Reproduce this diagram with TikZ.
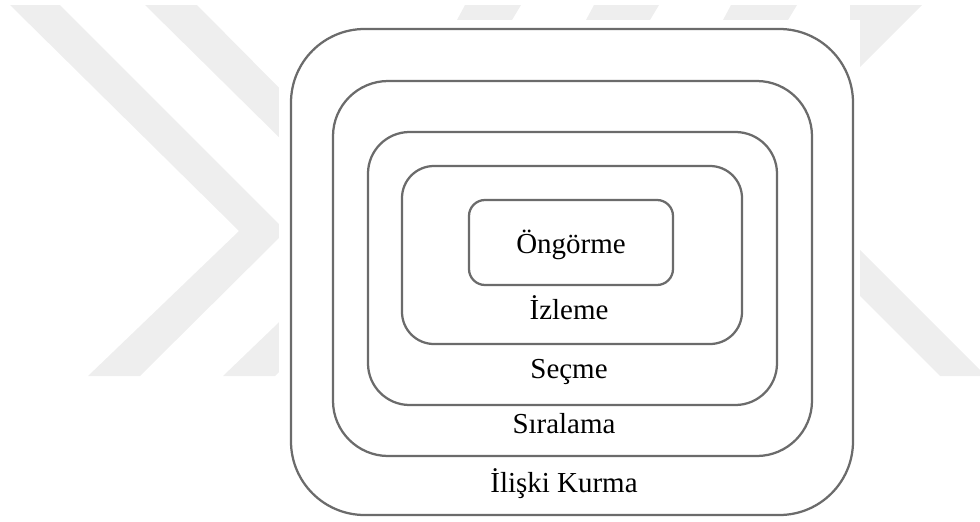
\documentclass[tikz,border=0pt]{standalone}
\usepackage{fontspec}
\setmainfont{Liberation Serif}
\usepackage{tikz}
\definecolor{wmgrey}{HTML}{EEEEEE}
\definecolor{boxgrey}{HTML}{6B6B6B}

\tikzset{
  layer/.style={boxgrey,line width=0.8pt},
  lbl/.style={font=\fontsize{10.3}{12}\selectfont,anchor=base,inner sep=0pt}
}

\begin{document}
\begin{tikzpicture}[x=0.0125cm,y=-0.0125cm]
\useasboundingbox (0,0) rectangle (980,522);
\fill[wmgrey] (10,5) -- (60,5) -- (286,231) -- (140,376) -- (88,376) -- (239,231) -- cycle;
\fill[wmgrey] (145,5) -- (197,5) -- (421,231) -- (275,376) -- (223,376) -- (374,231) -- cycle;
\fill[wmgrey] (457,20) -- (512,20) -- (521,5) -- (465,5) -- cycle;
\fill[wmgrey] (586,20) -- (650,20) -- (659,5) -- (594,5) -- cycle;
\fill[wmgrey] (723,20) -- (788,20) -- (797,5) -- (731,5) -- cycle;
\fill[wmgrey] (850,5) -- (922,5) -- (850,77) -- cycle;
\fill[wmgrey] (840,230) -- (980,370) -- (980,376) -- (940,376) -- (840,276) -- cycle;
\fill[white] (279,20) rectangle (860,522);
\draw[layer,rounded corners=0.92cm] (291,29) rectangle (853,515);
\draw[layer,rounded corners=0.69cm] (333,81) rectangle (812,456);
\draw[layer,rounded corners=0.52cm] (368,132) rectangle (777,405);
\draw[layer,rounded corners=0.4cm] (402,166) rectangle (742,344);
\draw[layer,rounded corners=0.2cm] (469,200) rectangle (673,285);
\node[lbl] (ongorme) at (571,253) {Öngörme};
\node[lbl] (izleme) at (569,319) {İzleme};
\node[lbl] (secme) at (569,378) {Seçme};
\node[lbl] (siralama) at (564,433) {Sıralama};
\node[lbl] (iliski) at (564,492) {İlişki Kurma};
\end{tikzpicture}
\end{document}
